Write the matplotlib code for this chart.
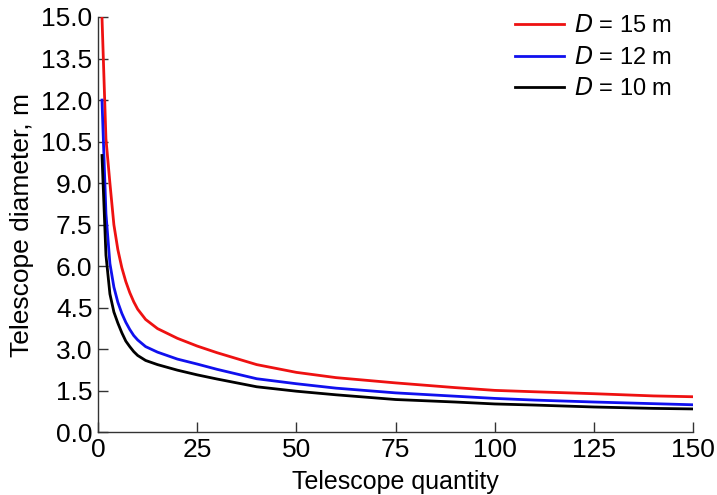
import numpy as np
import matplotlib
matplotlib.use("Agg")
import matplotlib.pyplot as plt
from matplotlib.ticker import FormatStrFormatter

plt.rcParams['font.family'] = ['Liberation Sans', 'DejaVu Sans']

# values
quantity = [1, 2, 3, 4, 5, 6, 7, 8, 9, 10, 12, 15, 20, 25, 30, 40, 50, 60,
            75, 90, 100, 110, 125, 140, 150]
diam_15 = [15.0, 10.6, 9.0, 7.5, 6.6, 5.95, 5.45, 5.05, 4.72, 4.45, 4.08,
           3.75, 3.4, 3.12, 2.88, 2.45, 2.17, 1.98, 1.79, 1.62, 1.52, 1.47,
           1.40, 1.32, 1.29]
diam_12 = [12.0, 7.9, 6.1, 5.25, 4.7, 4.3, 3.98, 3.72, 3.5, 3.34, 3.1, 2.9,
           2.65, 2.47, 2.28, 1.94, 1.76, 1.60, 1.43, 1.31, 1.23, 1.17, 1.10,
           1.04, 1.00]
diam_10 = [10.0, 6.4, 5.0, 4.35, 3.95, 3.6, 3.3, 3.1, 2.92, 2.78, 2.6, 2.45,
           2.25, 2.08, 1.93, 1.65, 1.49, 1.36, 1.19, 1.10, 1.03, 0.99, 0.92,
           0.87, 0.85]

series = [('$D$ = 15 m', diam_15, '#ee1111'),
          ('$D$ = 12 m', diam_12, '#1010ee'),
          ('$D$ = 10 m', diam_10, '#000000')]

fig = plt.figure(figsize=(7.17, 4.95), dpi=100)
ax = fig.add_axes([0.1367, 0.1263, 0.83, 0.8394])

for label, vals, color in series:
    ax.plot(quantity, vals, color=color, lw=2.0, label=label,
            solid_capstyle='projecting')

ax.set_xlim(0, 150)
ax.set_ylim(0, 15)
ax.set_xticks(np.arange(0, 151, 25))
ax.set_yticks(np.arange(0, 15.01, 1.5))
ax.yaxis.set_major_formatter(FormatStrFormatter('%.1f'))
ax.tick_params(direction='in', length=7, width=1, labelsize=19,
               color='#333333', pad=4)
for side in ('top', 'right'):
    ax.spines[side].set_visible(False)
for side in ('left', 'bottom'):
    ax.spines[side].set_color('#333333')
    ax.spines[side].set_linewidth(1)

ax.set_xlabel('Telescope quantity', fontsize=18, labelpad=6)
ax.set_ylabel('Telescope diameter, m', fontsize=19, labelpad=5)

leg = ax.legend(loc='upper right', frameon=False, fontsize=17,
                handlelength=2.1, handletextpad=0.4, labelspacing=0.4,
                borderpad=0, borderaxespad=0,
                bbox_to_anchor=(0.937, 0.969), bbox_transform=fig.transFigure)

fig.savefig('out.png', dpi=100)
